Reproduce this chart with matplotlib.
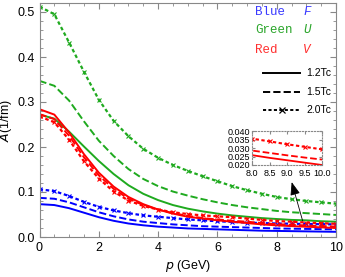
import numpy as np
import matplotlib
matplotlib.use('Agg')
import matplotlib.pyplot as plt
from matplotlib.ticker import MultipleLocator

plt.rcParams['font.family'] = ['Liberation Sans', 'DejaVu Sans']

# momentum grid (GeV)
p = [0, 0.5, 1, 1.5, 2, 2.5, 3, 3.5, 4, 4.5, 5, 5.5, 6, 6.5, 7, 7.5, 8, 8.5, 9, 9.5, 10]

# F (blue)
blue_12 = [0.073, 0.071, 0.064, 0.054, 0.044, 0.036, 0.030, 0.026, 0.023, 0.021, 0.019,
           0.018, 0.017, 0.016, 0.015, 0.014, 0.0135, 0.013, 0.0125, 0.012, 0.0115]
blue_15 = [0.087, 0.085, 0.077, 0.066, 0.055, 0.046, 0.039, 0.034, 0.031, 0.028, 0.026,
           0.024, 0.023, 0.022, 0.021, 0.020, 0.019, 0.0185, 0.018, 0.0175, 0.017]
blue_20 = [0.106, 0.102, 0.091, 0.078, 0.067, 0.059, 0.053, 0.048, 0.045, 0.042, 0.039,
           0.037, 0.035, 0.0335, 0.032, 0.031, 0.030, 0.0295, 0.029, 0.0285, 0.028]

# U (green)
green_12 = [0.272, 0.263, 0.234, 0.201, 0.169, 0.140, 0.115, 0.096, 0.082, 0.071, 0.063,
            0.057, 0.052, 0.048, 0.045, 0.042, 0.040, 0.038, 0.037, 0.035, 0.034]
green_15 = [0.347, 0.336, 0.303, 0.257, 0.214, 0.180, 0.151, 0.129, 0.113, 0.101, 0.092,
            0.084, 0.077, 0.071, 0.066, 0.062, 0.058, 0.055, 0.053, 0.051, 0.049]
green_20 = [0.512, 0.495, 0.432, 0.367, 0.305, 0.258, 0.224, 0.196, 0.176, 0.160, 0.147,
            0.135, 0.124, 0.113, 0.104, 0.096, 0.089, 0.084, 0.080, 0.077, 0.074]

# V (red)
red_12 = [0.284, 0.272, 0.232, 0.184, 0.143, 0.112, 0.089, 0.073, 0.061, 0.052, 0.045,
          0.041, 0.037, 0.034, 0.031, 0.028, 0.0258, 0.0242, 0.0228, 0.0214, 0.020]
red_15 = [0.273, 0.262, 0.225, 0.177, 0.137, 0.107, 0.085, 0.071, 0.061, 0.053, 0.047,
          0.042, 0.039, 0.036, 0.034, 0.031, 0.0285, 0.0271, 0.0257, 0.0244, 0.0232]
red_20 = [0.268, 0.255, 0.216, 0.168, 0.130, 0.101, 0.081, 0.069, 0.061, 0.055, 0.051,
          0.048, 0.046, 0.044, 0.041, 0.038, 0.0355, 0.0339, 0.0322, 0.0307, 0.0292]

BLUE = '#0000ff'
GREEN = '#1faa1f'
RED = '#ff0000'
DOT = (0, (1.6, 1.2))

fig = plt.figure(figsize=(3.45, 2.77), dpi=100)
ax = fig.add_axes([39.5 / 345, 1 - 237 / 277, 296.5 / 345, 234 / 277])

series = [
    (blue_12, BLUE, '-'), (blue_15, BLUE, '--'), (blue_20, BLUE, DOT),
    (green_12, GREEN, '-'), (green_15, GREEN, '--'), (green_20, GREEN, DOT),
    (red_12, RED, '-'), (red_15, RED, '--'), (red_20, RED, DOT),
]
for ys, c, ls in series:
    if ls == DOT:
        ax.plot(p, ys, color=c, ls=ls, lw=1.6, marker='x', ms=3.5, mew=0.8)
    else:
        ax.plot(p, ys, color=c, ls=ls, lw=1.4)

ax.set_xlim(0, 10)
ax.set_ylim(0, 0.52)
ax.xaxis.set_major_locator(MultipleLocator(2))
ax.xaxis.set_minor_locator(MultipleLocator(0.5))
ax.yaxis.set_major_locator(MultipleLocator(0.1))
ax.yaxis.set_minor_locator(MultipleLocator(0.02))
ax.yaxis.set_major_formatter(plt.FormatStrFormatter('%.1f'))
ax.tick_params(which='both', direction='in', top=True, right=True, color='#888888', labelsize=9)
ax.tick_params(which='major', length=4)
ax.tick_params(which='minor', length=2)
for s in ax.spines.values():
    s.set_color('#888888')
    s.set_linewidth(0.8)

ax.set_xlabel(r'$p$ (GeV)', fontsize=9, labelpad=3)
ax.set_ylabel(r'$A$(1/fm)', fontsize=9, labelpad=2)

# colour key
mono = 'Liberation Mono'
for name, sym, c, y in [('Blue', 'F', '#3a3aff', 0.962), ('Green', 'U', '#2aa52a', 0.885),
                        ('Red', 'V', '#ff3030', 0.800)]:
    ax.text(0.727, y, name, transform=ax.transAxes, family=mono, color=c, fontsize=9, va='center')
    ax.text(0.889, y, sym, transform=ax.transAxes, family=mono, color=c, fontsize=9,
            style='italic', va='center')

# line style key
for ls, lab, y in [('-', '1.2Tc', 0.701), ('--', '1.5Tc', 0.620), (DOT, '2.0Tc', 0.543)]:
    ax.plot([0.754, 0.879], [y, y], transform=ax.transAxes, color='black', ls=ls, lw=1.4)
    ax.text(0.899, y, lab, transform=ax.transAxes, fontsize=7.5, va='center')
ax.plot([0.8165], [0.543], transform=ax.transAxes, color='black', marker='x', ms=4, mew=0.9)

ax.annotate('', xy=(8.48, 0.128), xytext=(8.9, 0.030),
            arrowprops=dict(arrowstyle='-|>,head_length=0.8,head_width=0.3', color='black', lw=0.6))

# inset
ins = fig.add_axes([252 / 345, 1 - 165 / 277, 70 / 345, 34 / 277])
ins.plot(p, red_12, color=RED, ls='-', lw=1.3)
ins.plot(p, red_15, color=RED, ls='--', lw=1.3)
ins.plot(p, red_20, color=RED, ls=DOT, lw=1.5, marker='x', ms=3, mew=0.8)
ins.set_xlim(8, 10)
ins.set_ylim(0.02, 0.04)
ins.xaxis.set_major_locator(MultipleLocator(0.5))
ins.yaxis.set_major_locator(MultipleLocator(0.005))
ins.xaxis.set_major_formatter(plt.FormatStrFormatter('%.1f'))
ins.yaxis.set_major_formatter(plt.FormatStrFormatter('%.3f'))
ins.tick_params(direction='in', top=True, right=True, length=2, color='#888888', labelsize=6.5)
ins.tick_params(axis='x', pad=3)
ins.tick_params(axis='y', pad=1.5)
for s in ins.spines.values():
    s.set_color('#888888')
    s.set_linestyle(':')
    s.set_linewidth(0.8)

fig.savefig('out.png', dpi=100)
